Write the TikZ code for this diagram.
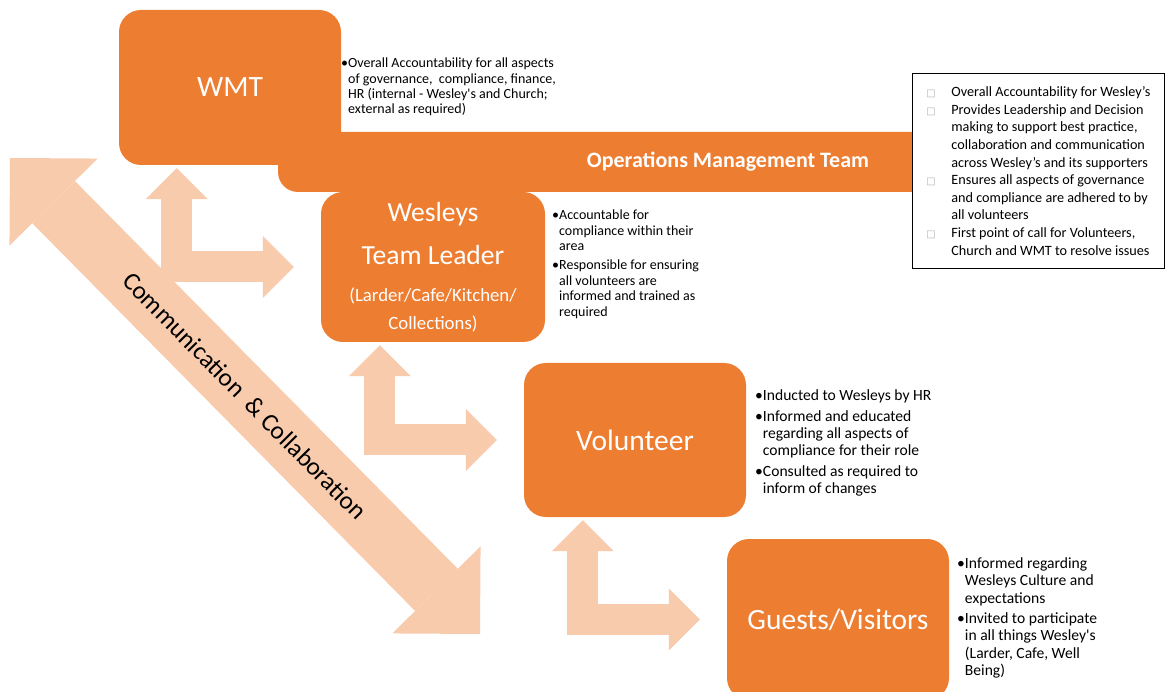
\documentclass[tikz,border=0pt]{standalone}
\usepackage{fontspec}
\setmainfont{Carlito}[Ligatures=TeXOff]
\newfontfamily\symfont{DejaVu Sans}
\usetikzlibrary{arrows.meta}
\definecolor{boxorange}{HTML}{ED7D31}
\definecolor{arrowpeach}{HTML}{F8CBAD}
\newcommand{\ind}{\hphantom{•}}
\newcommand{\sqmark}{\makebox[25pt][l]{\textcolor{gray!60}{\symfont\fontsize{10}{10}\selectfont □}}}
\newcommand{\sqpad}{\hspace*{25pt}}

\begin{document}
\begin{tikzpicture}[x = 1pt, y = -1pt,
    box/.style = {rectangle, rounded corners = 22pt, fill = boxorange, text = white,
        minimum width = 222pt, inner sep = 0pt, font = \fontsize{29.5}{36}\selectfont},
    notes/.style = {anchor = north west, inner sep = 0pt, align = left, text = black},
    bidir/.style = {draw = arrowpeach, line width = 31pt, line join = miter,
        {Triangle[length = 31pt, width = 62pt, line width = 0pt]}-{Triangle[length = 31pt, width = 62pt, line width = 0pt]},
        shorten <= 3pt, shorten >= 27pt},
    commarrow/.style = {draw = arrowpeach, line width = 60pt,
        {Triangle[length = 62pt, width = 124pt, line width = 0pt]}-{Triangle[length = 62pt, width = 124pt, line width = 0pt]}}]
    \useasboundingbox (0,0) rectangle (1165,692);
    \clip (0,0) rectangle (1165,692);
    % operations band behind the boxes
    \fill[boxorange, rounded corners = 20pt] (278,132) rectangle (940,192);
    \node[box, minimum height = 155pt] (wmt) at (230,87.5) {WMT};
    \node[box, minimum width = 224pt, minimum height = 150pt, align = center,
        font = \fontsize{27.6}{37}\selectfont] (tl) at (433,267)
        {Wesleys\\[6pt] Team Leader\\
         {\fontsize{18.8}{28}\selectfont (Larder/Cafe/Kitchen/}\\[-9pt]
         {\fontsize{18.8}{28}\selectfont Collections)}};
    \node[box, minimum height = 154pt] (vol) at (635,440) {Volunteer};
    \node[box, minimum height = 161pt] (guests) at (838,619.5) {Guests/Visitors};
    \node[anchor = north west, draw = black, line width = 0.8pt, fill = white,
        minimum width = 252pt, minimum height = 195pt, inner sep = 0pt, align = left,
        font = \fontsize{14.2}{17.6}\selectfont] (omtnotes) at (912,73)
        {\sqmark Overall Accountability for Wesley’s\\
         \sqmark Provides Leadership and Decision\\
         \sqpad making to support best practice,\\
         \sqpad collaboration and communication\\
         \sqpad across Wesley’s and its supporters\\
         \sqmark Ensures all aspects of governance\\
         \sqpad and compliance are adhered to by\\
         \sqpad all volunteers\\
         \sqmark First point of call for Volunteers,\\
         \sqpad Church and WMT to resolve issues};
    \node[text = white, font = \bfseries\fontsize{22}{26}\selectfont] (omtlabel) at (728,162)
        {Operations Management Team};

    % big diagonal arrow
    \coordinate (commtop) at (10,158);
    \coordinate (commend) at (480,634);
    \draw[commarrow] (commtop) -- (commend)
        node[midway, sloped, text = black, font = \fontsize{25.3}{30}\selectfont] (commlabel)
        {Communication\ \ \& Collaboration};

    % L arrows between levels
    \draw[bidir] ([xshift = 58pt]wmt.south west) |- (tl.west);
    \draw[bidir] ([xshift = 59pt]tl.south west) |- (vol.west);
    \draw[bidir] ([xshift = 59pt]vol.south west) |- (guests.west);

    % notes beside the boxes
    \node[notes, font = \fontsize{14}{15.3}\selectfont] (wmtnotes) at (341,58)
        {•Overall Accountability for all aspects\\
         \ind of governance,\ \ compliance, finance,\\
         \ind HR (internal - Wesley's and Church;\\
         \ind external as required)};
    \node[notes, font = \fontsize{14}{15.5}\selectfont] (tlnotes) at (552,210)
        {•Accountable for\\
         \ind compliance within their\\
         \ind area\\[3.5pt]
         •Responsible for ensuring\\
         \ind all volunteers are\\
         \ind informed and trained as\\
         \ind required};
    \node[notes, font = \fontsize{15.6}{17}\selectfont] (volnotes) at (755,389)
        {•Inducted to Wesleys by HR\\[4pt]
         •Informed and educated\\
         \ind regarding all aspects of\\
         \ind compliance for their role\\[4pt]
         •Consulted as required to\\
         \ind inform of changes};
    \node[notes, font = \fontsize{15.6}{17.5}\selectfont] (guestnotes) at (957,557)
        {•Informed regarding\\
         \ind Wesleys Culture and\\
         \ind expectations\\[2.5pt]
         •Invited to participate\\
         \ind in all things Wesley's\\
         \ind (Larder, Cafe, Well\\
         \ind Being)};
\end{tikzpicture}
\end{document}
